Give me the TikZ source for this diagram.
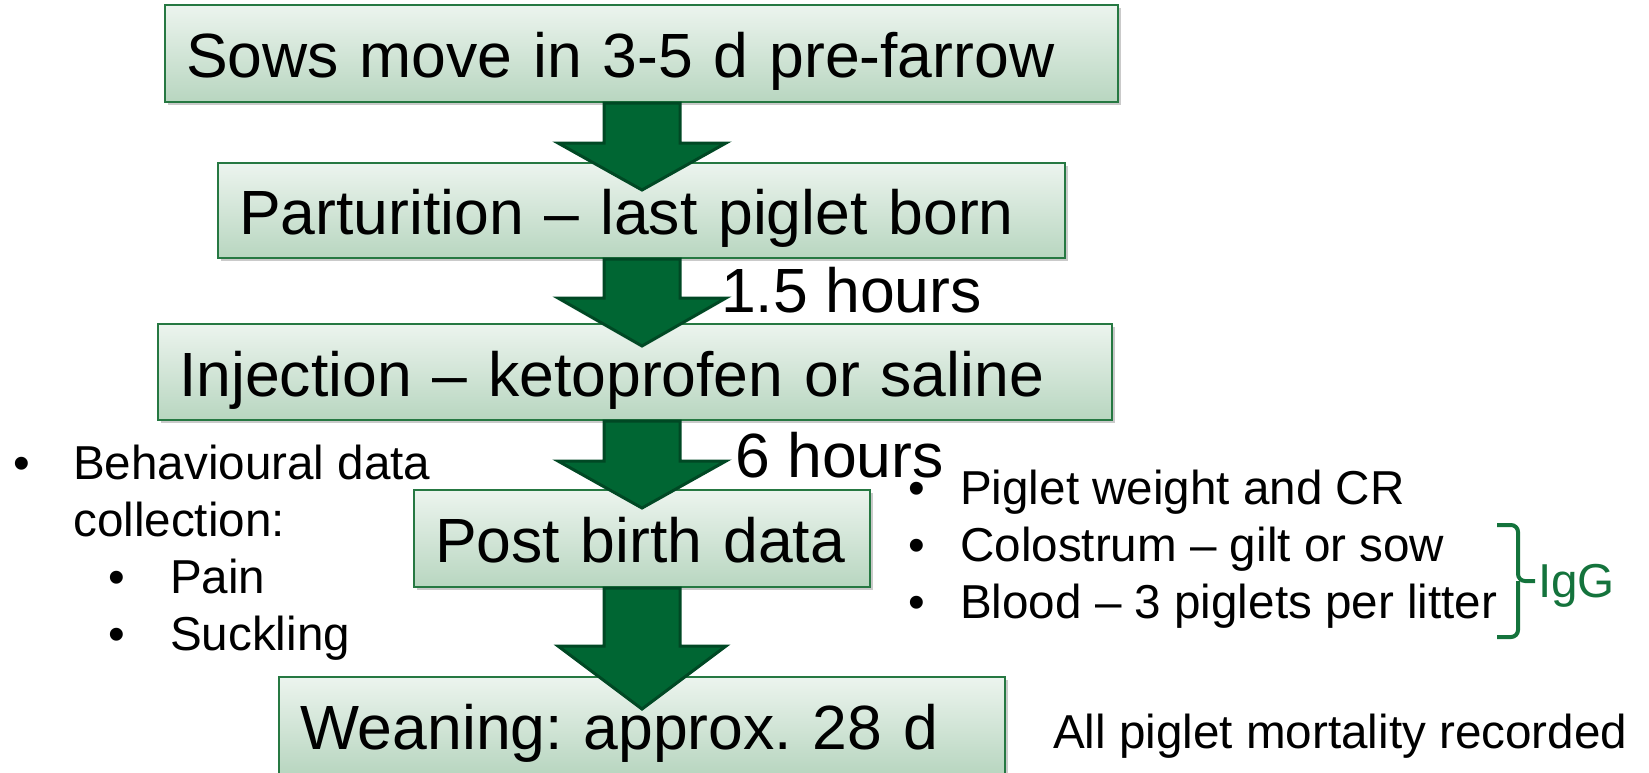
\documentclass[tikz,border=0pt]{standalone}
\usepackage{fontspec}
\setmainfont{Liberation Sans}
\usetikzlibrary{calc,shadows}

\definecolor{boxedge}{RGB}{38,120,66}
\definecolor{boxtop}{RGB}{236,244,238}
\definecolor{boxbot}{RGB}{184,214,192}
\definecolor{arrowfill}{RGB}{0,102,51}
\definecolor{arrowedge}{RGB}{0,72,36}
\definecolor{igggreen}{RGB}{20,115,60}

\tikzset{
  stepbox/.style={draw=boxedge, line width=2pt, top color=boxtop, bottom color=boxbot,
    drop shadow={shadow xshift=3pt, shadow yshift=-3pt, opacity=0.35, fill=black!60},
    inner xsep=21pt, inner ysep=0pt, align=left,
    font=\fontsize{62.5}{70}\selectfont\frenchspacing, text height=48pt, text depth=0pt},
  flowarrow/.style={fill=arrowfill, draw=arrowedge, line width=3pt, line join=miter},
  gaptext/.style={font=\fontsize{62.5}{70}\selectfont, inner sep=0pt, anchor=base west},
  sidetext/.style={font=\fontsize{47.6}{57}\selectfont\frenchspacing, align=left, inner sep=0pt, anchor=base west},
  igbrace/.style={draw=igggreen, line width=4pt, rounded corners=7pt}
}

% block arrow: from box, to box, tip depth, head length
\newcommand{\stepdown}[4]{%
  \path (#1.south -| axis) coordinate (atop)
        ($(#2.north -| axis)+(0,#3)$) coordinate (atip);
  \draw[flowarrow] ($(atop)+(-38,0)$) -- ($(atip)+(-38,-#4)$) -- ($(atip)+(-84,-#4)$)
    -- (atip) -- ($(atip)+(84,-#4)$) -- ($(atip)+(38,-#4)$) -- ($(atop)+(38,0)$) -- cycle;}

\begin{document}
\begin{tikzpicture}[x=1pt,y=-1pt]
\useasboundingbox (0,0) rectangle (1649,772);
\coordinate (axis) at (642,0);

% steps
\node[stepbox, text width=911pt, minimum height=97pt] (sows) at (641.5,53.5) {Sows move in 3-5 d pre-farrow};
\node[stepbox, text width=805pt, minimum height=95pt] (part) at (641.5,210.5) {Parturition – last piglet born};
\node[stepbox, text width=912pt, minimum height=96pt] (inj)  at (635,372) {Injection – ketoprofen or saline};
\node[stepbox, text width=414pt, minimum height=97pt] (post) at (642,538.5) {Post birth data};
\node[stepbox, text width=684pt, minimum height=97pt] (wean) at (642,725.5) {Weaning: approx. 28 d};

\stepdown{sows}{part}{28}{47}
\stepdown{part}{inj}{23}{48}
\stepdown{inj}{post}{19}{47}
\stepdown{post}{wean}{33}{63}

\node[gaptext] (gapa) at (721,312) {1.5 hours};
\node[gaptext] (gapb) at (735,477) {6 hours};

% side notes (anchored at the last line)
\node[sidetext] (behav) at (13,650) {\makebox[60pt][l]{•}Behavioural data\\
  \hspace*{60pt}collection:\\
  \hspace*{95pt}\makebox[62pt][l]{•}Pain\\
  \hspace*{95pt}\makebox[62pt][l]{•}Suckling};
\node[sidetext] (samples) at (908,618) {\makebox[52pt][l]{•}Piglet weight and CR\\
  \makebox[52pt][l]{•}Colostrum – gilt or sow\\
  \makebox[52pt][l]{•}Blood – 3 piglets per litter};
\node[sidetext] (mort) at (1053,748) {All piglet mortality recorded};

% IgG brace
\coordinate (igtip) at (1535,581);
\node[sidetext, text=igggreen] (igg) at (1538,597) {IgG};
\draw[igbrace] (1497,525) -| (1518,581) -- (igtip);
\draw[igbrace] (1497,637) -| (1518,581);
\end{tikzpicture}
\end{document}
